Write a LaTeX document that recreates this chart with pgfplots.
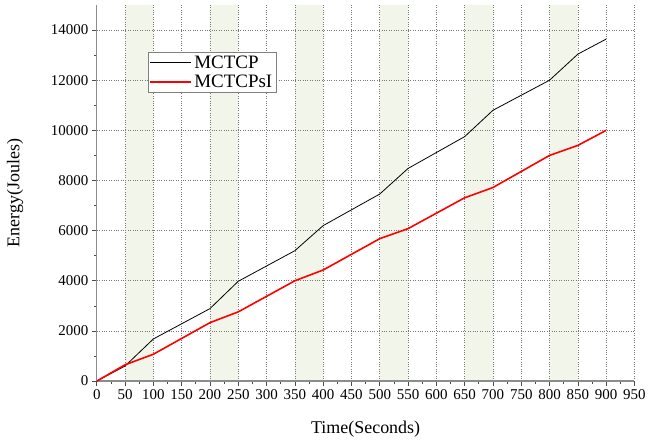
\documentclass[border=0pt]{standalone}
\usepackage{pgfplots}
\pgfplotsset{compat=1.18}
\usepackage{fontspec}
\setmainfont{Liberation Serif}
\definecolor{band}{RGB}{242,245,234}
\definecolor{axgray}{RGB}{140,140,140}
\definecolor{gridgray}{RGB}{120,120,120}
\begin{document}
\begin{tikzpicture}
\begin{axis}[
 set layers,
 scale only axis, width=539pt, height=377pt,
 xmin=0, xmax=950, ymin=0, ymax=15000,
 scaled y ticks=false, scaled x ticks=false,
 axis x line*=bottom, axis y line*=left,
 axis line style={axgray, line width=1.2pt, -},
 xtick={0,50,...,950}, ytick={0,2000,...,14000},
 minor x tick num=1, minor y tick num=1,
 tick align=outside, major tick length=5pt, minor tick length=3pt,
 tick style={black!70, line width=0.7pt},
 grid=major, major grid style={dotted, gridgray, line width=0.6pt},
 /pgf/number format/assume math mode=true,
 /pgf/number format/set thousands separator={},
 ticklabel style={font=\fontsize{15}{17}\selectfont},
 xlabel={Time(Seconds)}, ylabel={Energy(Joules)},
 label style={font=\fontsize{18}{20}\selectfont},
 xlabel style={yshift=-15pt},
 ylabel style={at={(axis description cs:-0.13,0.5)}},
 legend style={at={(0.095,0.875)}, anchor=north west, draw=gray,
   font=\fontsize{19}{21}\selectfont, inner sep=1.5pt, row sep=1pt},
 legend cell align=left,
 legend image code/.code={\draw[#1] (0cm,0cm) -- (1.45cm,0cm);},
]
\addplot[fill=band, draw=none, forget plot, on layer=axis background] coordinates {(50,0)(50,15000)(100,15000)(100,0)} \closedcycle;
\addplot[fill=band, draw=none, forget plot, on layer=axis background] coordinates {(200,0)(200,15000)(250,15000)(250,0)} \closedcycle;
\addplot[fill=band, draw=none, forget plot, on layer=axis background] coordinates {(350,0)(350,15000)(400,15000)(400,0)} \closedcycle;
\addplot[fill=band, draw=none, forget plot, on layer=axis background] coordinates {(500,0)(500,15000)(550,15000)(550,0)} \closedcycle;
\addplot[fill=band, draw=none, forget plot, on layer=axis background] coordinates {(650,0)(650,15000)(700,15000)(700,0)} \closedcycle;
\addplot[fill=band, draw=none, forget plot, on layer=axis background] coordinates {(800,0)(800,15000)(850,15000)(850,0)} \closedcycle;
\addplot[black, line width=0.8pt] coordinates {
(0,0)(50,600)(100,1680)(200,2890)(250,3980)(350,5200)(400,6200)(500,7460)(550,8480)(650,9750)(700,10800)(800,12000)(850,13040)(900,13640)};
\addlegendentry{MCTCP}
\addplot[red, line width=1.6pt] coordinates {
(0,0)(50,650)(100,1070)(200,2330)(250,2760)(350,4000)(400,4430)(500,5680)(550,6080)(650,7310)(700,7720)(800,9000)(850,9400)(900,10000)};
\addlegendentry{MCTCPsI}
\end{axis}
\path (current axis.south west) ++(-97pt,-62pt) rectangle ++(649pt,444pt);
\end{tikzpicture}
\end{document}
